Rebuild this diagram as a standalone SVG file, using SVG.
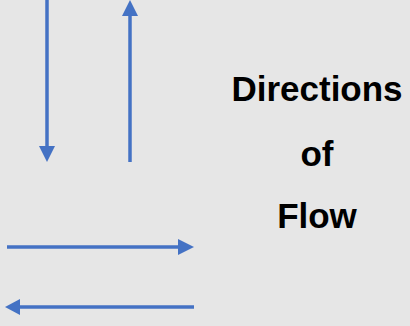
<svg xmlns="http://www.w3.org/2000/svg" width="410" height="326" viewBox="0 0 410 326">
<style>
.ar{stroke:#4472C4;stroke-width:3.5;fill:none}
.hd{fill:#4472C4}
.t{font-family:"Liberation Sans",Arial,sans-serif;font-weight:bold;font-size:35px;fill:#000;text-anchor:middle}
</style>
<rect width="410" height="326" fill="#E6E6E6"/>
<g id="connectors">
<line class="ar" x1="47" y1="0" x2="47" y2="148"/>
<polygon class="hd" points="39,146 55,146 47,162"/>
<line class="ar" x1="130" y1="162" x2="130" y2="14"/>
<polygon class="hd" points="122,16 138,16 130,0"/>
<line class="ar" x1="7" y1="247" x2="180" y2="247"/>
<polygon class="hd" points="178,239 178,255 194,247"/>
<line class="ar" x1="194" y1="307" x2="18" y2="307"/>
<polygon class="hd" points="20,299 20,315 5,307"/>
</g>
<g id="label">
<text class="t" x="317" y="101">Directions</text>
<text class="t" x="317" y="166">of</text>
<text class="t" x="317" y="228">Flow</text>
</g>
</svg>
